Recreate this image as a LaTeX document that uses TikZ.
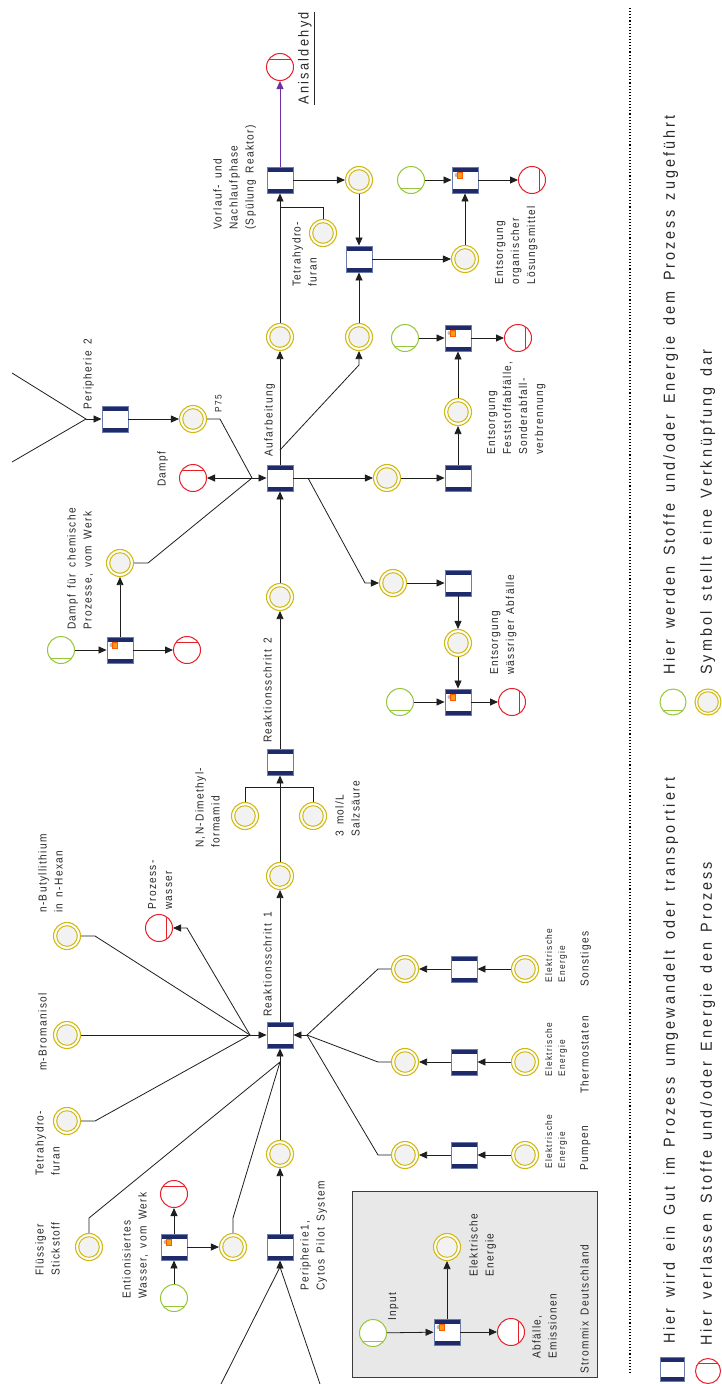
\documentclass[tikz,border=0pt]{standalone}
\usepackage{fontspec}
\setmainfont{Liberation Sans}[FakeStretch=0.88,LetterSpace=12,WordSpace=1.5]
\newfontfamily\smfam{Liberation Sans}[FakeStretch=0.88,LetterSpace=14,WordSpace=1.5]
\newfontfamily\bgfam{Liberation Sans}[FakeStretch=0.9,LetterSpace=19,WordSpace=1.5]
\newfontfamily\anfam{Liberation Sans}[FakeStretch=0.88,LetterSpace=16]
\usetikzlibrary{arrows.meta,calc}
\definecolor{navy}{RGB}{31,42,107}
\definecolor{boxedge}{RGB}{110,124,170}
\definecolor{yel}{RGB}{208,186,20}
\definecolor{grn}{RGB}{150,198,60}
\definecolor{rd}{RGB}{232,30,40}
\definecolor{purp}{RGB}{112,48,160}
\definecolor{innerc}{RGB}{242,242,242}
\definecolor{ln}{RGB}{30,30,30}
\definecolor{legbg}{RGB}{232,232,232}
\definecolor{legedge}{RGB}{60,60,60}
\definecolor{txt}{RGB}{40,40,40}
\definecolor{icono}{RGB}{245,160,20}
\newcommand\lbfont{\fontsize{11.5}{16}\selectfont}
\newcommand\smfont{\smfam\fontsize{9.5}{13}\selectfont}
\newcommand\bgfont{\bgfam\fontsize{16}{20}\selectfont}
\newcommand\anfont{\anfam\fontsize{14.5}{18}\selectfont}
\newcommand\picon[1]{%
  \fill[gray!55] ([xshift=5pt,yshift=-8.5pt]#1.north west) circle (2pt);
  \filldraw[draw=orange!70!red, fill=icono, line width=0.4pt] ([xshift=5.5pt,yshift=-5.5pt]#1.north west) rectangle ++(5.5pt,-6.5pt);}
\tikzset{
 proc/.style={rectangle, minimum width=26pt, minimum height=26pt, inner sep=0pt, draw=boxedge, line width=0.9pt, fill=white,
   path picture={\fill[navy] (path picture bounding box.north west) rectangle ([yshift=-4.5pt]path picture bounding box.north east);
                 \fill[navy] (path picture bounding box.south west) rectangle ([yshift=4.5pt]path picture bounding box.south east);}},
 lnk/.style={circle, minimum size=27pt, inner sep=0pt, draw=yel, line width=1.1pt, fill=white,
   path picture={\draw[yel, line width=1pt, fill=innerc] (path picture bounding box.center) circle (10.3pt);}},
 inp/.style={circle, minimum size=27pt, inner sep=0pt, draw=grn, line width=1pt, fill=white,
   path picture={\draw[grn, line width=1pt] ([yshift=-8pt]path picture bounding box.center) ++(-20pt,0pt) -- ++(40pt,0pt);}},
 outT/.style={circle, minimum size=27pt, inner sep=0pt, draw=rd, line width=1pt, fill=white,
   path picture={\draw[rd, line width=1pt] ([yshift=7.5pt]path picture bounding box.center) ++(-20pt,0pt) -- ++(40pt,0pt);}},
 outR/.style={circle, minimum size=27pt, inner sep=0pt, draw=rd, line width=1pt, fill=white,
   path picture={\draw[rd, line width=1pt] ([xshift=7.5pt]path picture bounding box.center) ++(0pt,-20pt) -- ++(0pt,40pt);}},
 con/.style={draw=ln, line width=0.8pt},
 arr/.style={con, -{Triangle[length=8pt,width=7pt]}},
 lbl/.style={rotate=90, anchor=north west, inner sep=0pt, align=left, text=txt, font=\lbfont},
 slbl/.style={lbl, font=\smfont},
 blbl/.style={lbl, font=\bgfont},
}
\begin{document}
\begin{tikzpicture}[x=1pt,y=-1pt]
\useasboundingbox (0,0) rectangle (721,1384);
\fill[white] (0,0) rectangle (721,1384);

% ---------- main column ----------
\node[outT] (ani) at (280,67) {};
\node[proc] (vor) at (280,180) {};
\node[lnk] (lvor) at (280,337) {};
\node[proc] (auf) at (280,478) {};
\node[lnk] (lr2) at (280,597) {};
\node[proc] (r2) at (280,762) {};
\node[lnk] (lr1) at (280,876) {};
\node[proc] (r1) at (280,1035) {};
\node[lnk] (lp1) at (280,1154) {};
\node[proc] (p1) at (280,1247) {};

\draw[arr, draw=purp] (vor) -- (ani);
\draw[arr] (lvor) -- (vor);
\coordinate (jthf) at (280,207);
\node[lnk] (thf2) at (323,233) {};
\draw[con] (thf2.north) |- (jthf);
\draw[arr] (auf) -- (lvor);
\coordinate (jb) at (280,450);
\coordinate (bo) at (359,365);
\node[lnk] (lo2) at (359,337) {};
\draw[arr] (jb) -- (bo) -- (lo2);
\draw[arr] (lr2) -- (auf);
\draw[arr] (r2) -- (lr2);
\draw[arr] (lr1) -- (r2);
\draw[arr] (r1) -- (lr1);
\draw[arr] (lp1) -- (r1);
\draw[arr] (p1) -- (lp1);

% Peripherie 1
\coordinate (vp1) at (280,1267);
\coordinate (vp1a) at (221,1384);
\coordinate (vp1b) at (320,1384);
\draw[con] (vp1a) -- (vp1) -- (vp1b);
\draw[arr] (vp1) -- (p1);

% Reaktionsschritt 2 inputs
\node[lnk] (dmf) at (245,816) {};
\node[lnk] (hcl) at (313,816) {};
\draw[con] (dmf.north) -- ++(0,-15) -| (hcl.north);

% organic solvent chain
\node[lnk] (lo1) at (359,180) {};
\node[proc] (po) at (359,259) {};
\node[lnk] (lo3) at (465,259) {};
\node[proc] (ion) at (465,180) {};
\node[inp] (ino) at (411,180) {};
\node[outR] (outo) at (532,180) {};
\draw[arr] (vor) -- (lo1);
\draw[arr] (lo1) -- (po);
\draw[arr] (lo2) -- (po);
\draw[arr] (po) -- (lo3);
\draw[arr] (lo3) -- (ion);
\draw[arr] (ino) -- (ion);
\draw[arr] (ion) -- (outo);

% Feststoff chain
\node[lnk] (lf1) at (387,478) {};
\node[proc] (pf) at (458,478) {};
\node[lnk] (lf2) at (458,412) {};
\node[proc] (iff) at (458,338) {};
\node[inp] (inf) at (405,338) {};
\node[outR] (outf) at (518,338) {};
\draw[arr] (auf) -- (lf1);
\draw[arr] (lf1) -- (pf);
\draw[arr] (pf) -- (lf2);
\draw[arr] (lf2) -- (iff);
\draw[arr] (inf) -- (iff);
\draw[arr] (iff) -- (outf);

% waessrig chain
\coordinate (jw) at (308,478);
\coordinate (bw) at (365,583);
\node[lnk] (lw1) at (393,583) {};
\node[proc] (pw) at (458,583) {};
\node[lnk] (lw2) at (458,643) {};
\node[proc] (iw) at (458,702) {};
\node[inp] (inw) at (400,702) {};
\node[outR] (outw) at (512,702) {};
\draw[arr] (jw) -- (bw) -- (lw1);
\draw[arr] (lw1) -- (pw);
\draw[arr] (pw) -- (lw2);
\draw[arr] (lw2) -- (iw);
\draw[arr] (inw) -- (iw);
\draw[arr] (iw) -- (outw);

% Peripherie 2
\node[proc] (p2) at (115,419) {};
\coordinate (vp2) at (86,419);
\coordinate (vp2a) at (12,373);
\coordinate (vp2b) at (12,462);
\draw[con] (vp2a) -- (vp2) -- (vp2b);
\draw[arr] (vp2) -- (p2);
\node[lnk] (lp2) at (193,419) {};
\draw[arr] (p2) -- (lp2);
\coordinate (ca) at (252,478);
\coordinate (bp75) at (220,419);
\draw[con] (lp2) -- (bp75) -- (ca);
\node[outT] (dampf) at (193,478) {};
\draw[arr] (ca) -- (dampf);
\draw[arr] (ca) -- (auf);

% Dampf chain
\node[inp] (ind) at (61,650) {};
\node[proc] (idd) at (120,650) {};
\node[outT] (outd) at (187,650) {};
\node[lnk] (ld) at (120,563) {};
\coordinate (bd) at (148,563);
\draw[arr] (ind) -- (idd);
\draw[arr] (idd) -- (outd);
\draw[arr] (idd) -- (ld);
\draw[con] (ld) -- (bd) -- (ca);

% left inputs to Reaktionsschritt 1
\coordinate (cl) at (250,1035);
\node[lnk] (buli) at (67,936) {};
\coordinate (bbuli) at (95,936);
\node[lnk] (brom) at (67,1035) {};
\node[lnk] (thf1) at (67,1121) {};
\coordinate (bthf1) at (95,1121);
\node[outR] (pwas) at (159,928) {};
\coordinate (bpw) at (187,928);
\draw[con] (buli) -- (bbuli) -- (cl);
\draw[con] (brom) -- (cl);
\draw[con] (thf1) -- (bthf1) -- (cl);
\draw[arr] (cl) -- (bpw) -- (pwas);
\draw[arr] (cl) -- (r1);

\coordinate (jr1) at (280,1062);
\node[lnk] (n2) at (89,1247) {};
\coordinate (bn2) at (89,1218);
\node[lnk] (deion) at (233,1247) {};
\coordinate (bdeion) at (233,1218);
\draw[con] (n2) -- (bn2) -- (jr1);
\draw[con] (deion) -- (bdeion) -- (jr1);
\node[proc] (ie) at (174,1247) {};
\node[inp] (ine) at (174,1298) {};
\node[outT] (oute) at (174,1194) {};
\draw[arr] (ine) -- (ie);
\draw[arr] (ie) -- (oute);
\draw[arr] (ie) -- (deion);

% right energy inputs
\coordinate (cr) at (307,1035);
\draw[arr] (cr) -- (r1);
\foreach \n/\yy in {s/969, t/1062, u/1155}{
  \node[lnk] (l\n) at (405,\yy) {};
  \coordinate (b\n) at (378,\yy);
  \node[proc] (p\n) at (464,\yy) {};
  \node[lnk] (e\n) at (525,\yy) {};
  \draw[con] (l\n) -- (b\n) -- (cr);
  \draw[arr] (p\n) -- (l\n);
  \draw[arr] (e\n) -- (p\n);
}

% legend box
\draw[draw=legedge, fill=legbg, line width=1pt] (352,1191) rectangle (597,1377);
\node[inp] (lgin) at (373,1333) {};
\node[proc] (lgbox) at (447,1332) {};
\node[lnk] (lglnk) at (447,1247) {};
\node[outR] (lgout) at (511,1332) {};
\draw[arr] (lgin) -- (lgbox);
\draw[arr] (lgbox) -- (lglnk);
\draw[arr] (lgbox) -- (lgout);

% icons
\picon{ion}\picon{iff}\picon{iw}\picon{idd}\picon{ie}\picon{lgbox}

% bottom legend
\draw[dotted, line width=1.1pt] (630,8) -- (630,1374);
\node[proc, minimum width=24pt, minimum height=24pt] (legp) at (672,1369) {};
\node[outT, minimum size=25pt] (lego) at (708,1371) {};
\node[inp, minimum size=26pt] (legi) at (673,702) {};
\node[lnk, minimum size=26pt] (legl) at (708,702) {};

% ---------- labels ----------
\node[lbl] (t1) at (213,230) {Vorlauf- und\\Nachlaufphase\\(Spülung Reaktor)};
\node[lbl, font=\anfont] (tani) at (298,105) {Anisaldehyd};
\draw[line width=0.8pt, txt] ([xshift=2pt]tani.south west) -- ([xshift=2pt]tani.south east);
\node[lbl] (t3) at (292,287) {Tetrahydro-\\furan};
\node[lbl] (t4) at (495,285) {Entsorgung\\organischer\\Lösungsmittel};
\node[lbl] (t5) at (83,410) {Peripherie 2};
\node[slbl] (t6) at (215,413) {P75};
\node[lbl] (t7) at (157,487) {Dampf};
\node[lbl] (t8) at (264,457) {Aufarbeitung};
\node[lbl] (t9) at (67,630) {Dampf für chemische\\Prozesse, vom Werk};
\node[lbl] (t10) at (487,455) {Entsorgung\\Feststoffabfälle,\\Sonderabfall-\\verbrennung};
\node[lbl] (t11) at (490,675) {Entsorgung\\wässriger Abfälle};
\node[lbl] (t12) at (263,743) {Reaktionsschritt 2};
\node[lbl] (t13) at (195,848) {N,N-Dimethyl-\\formamid};
\node[lbl] (t14) at (335,837) {3 mol/L\\Salzsäure};
\node[lbl] (t15) at (263,1017) {Reaktionsschritt 1};
\node[lbl] (t16) at (38,913) {n-Butyllithium\\in n-Hexan};
\node[lbl] (t17) at (148,910) {Prozess-\\wasser};
\node[lbl] (t18) at (38,1071) {m-Bromanisol};
\node[lbl] (t19) at (35,1176) {Tetrahydro-\\furan};
\node[lbl] (t20) at (35,1276) {Flüssiger\\Stickstoff};
\node[lbl] (t21) at (122,1299) {Entionisiertes\\Wasser, vom Werk};
\node[lbl] (t22) at (300,1291) {Peripherie1,\\Cytos Pilot System};
\node[slbl] (t23) at (545,983) {Elektrische\\Energie};
\node[lbl] (t24) at (580,987) {Sonstiges};
\node[slbl] (t25) at (545,1077) {Elektrische\\Energie};
\node[lbl] (t26) at (580,1094) {Thermostaten};
\node[slbl] (t27) at (545,1169) {Elektrische\\Energie};
\node[lbl] (t28) at (580,1171) {Pumpen};
\node[lbl] (t29) at (388,1321) {Input};
\node[lbl] (t30) at (469,1277) {Elektrische\\Energie};
\node[lbl] (t31) at (532,1359) {Abfälle,\\Emissionen};
\node[lbl] (t32) at (580,1374) {Strommix Deutschland};
\node[blbl] (t33) at (663,1344) {Hier wird ein Gut im Prozess umgewandelt oder transportiert};
\node[blbl] (t34) at (700,1346) {Hier verlassen Stoffe und/oder Energie den Prozess};
\node[blbl] (t35) at (663,675) {Hier werden Stoffe und/oder Energie dem Prozess zugeführt};
\node[blbl] (t36) at (700,675) {Symbol stellt eine Verknüpfung dar};
\end{tikzpicture}
\end{document}
